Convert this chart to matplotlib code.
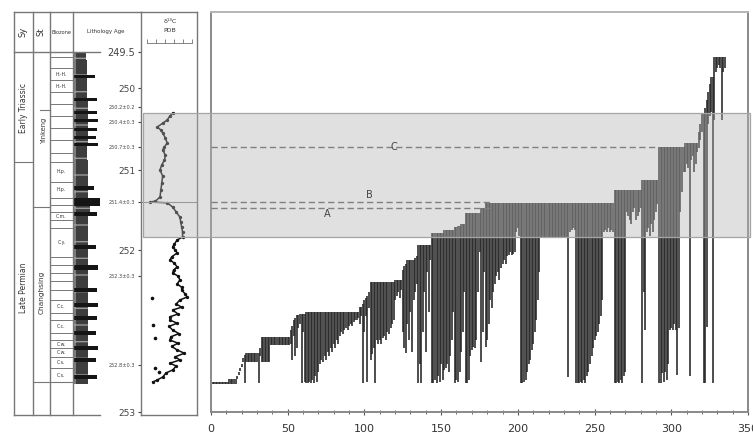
import matplotlib
matplotlib.use('Agg')
import matplotlib.pyplot as plt
from matplotlib.patches import Rectangle
from matplotlib.transforms import blended_transform_factory
from matplotlib.ticker import MultipleLocator

# ---- range chart: one entry per species, sorted by last occurrence (level units) ----
tops = ([7.6] * 11 + [8.2] * 5 + [9, 10, 11, 12, 13.5] + [14.25] + [14.75] * 8 + [14.75, 16]
        + [18.75] * 6 + [18.75] * 13 + [20.5, 21.5, 23, 23.5, 24.25, 24.25] + [24.5] * 4
        + [25] * 9 + [25] * 13 + [25] * 13 + [26.25] * 2 + [27, 28, 28.5, 29, 30]
        + [32.5] * 6 + [32.5] * 10 + [33] * 5
        + [35.5, 36.5, 37, 38, 38, 38, 38, 38, 38.5, 39]
        + [41.75] * 9 + [44.75] * 8 + [45.5] * 7 + [46.25, 46.25, 46.5, 46.5, 47, 47, 47]
        + [49.75] * 10 + [51] * 3
        + [52.25] * 7 + [52.25] * 13 + [52.25] * 3 + [52.25] * 13 + [52.25] * 18
        + [52.25] * 2 + [52.25] * 3 + [52.25] * 18 + [52.25] * 7
        + [55.5] * 8 + [55.5] * 10 + [58] * 2 + [58] * 9 + [66.25] * 7 + [66.25] * 10
        + [67.25] * 9 + [70, 72, 74.75, 74.75] + [76, 78, 80, 82, 83.75, 83.75] + [88.75] * 8)

bases = ([7.0] * 11 + [7.0] * 5 + [8.2, 9.2, 10.2, 11.2, 12.5] + [7.25] + [12.5] * 8 + [7.25, 14]
         + [12.5] * 6 + [16.75] * 13 + [17, 13, 19, 14, 16, 21] + [22, 7.25, 20, 7.5]
         + [7.25, 7.25, 7.5, 7.25, 8, 7.25, 9, 7.5, 10]
         + [12, 13, 12.5, 14, 13, 15, 14, 16, 15, 17, 16, 18, 17]
         + [19, 20, 19.5, 20.5, 21, 20.5, 21.5, 22, 21.5, 22.5, 23, 23, 23.5]
         + [22, 24] + [7.25, 20, 24, 7.5, 26]
         + [13, 14.5, 16, 7.25, 18, 17] + [18, 17, 18.5, 19, 18, 20, 19.5, 21, 22, 23]
         + [28, 29, 30, 28.5, 30.5]
         + [20, 16, 14.75, 22, 18, 25, 15, 28, 30, 32]
         + [7.25, 12, 7.25, 20, 30, 15, 35, 25, 38] + [7.25, 7.25, 8, 7.25, 9, 7.5, 12, 8]
         + [10.5, 11, 12, 10, 14, 18, 25] + [7.25, 8, 7.5, 10, 15, 20, 30]
         + [7.25, 7.25, 8, 14, 15.5, 16.25, 16, 18, 30, 40] + [12.5, 20, 35]
         + [16.25, 18, 22, 28, 26, 30, 32]
         + [34, 35, 33, 36, 37, 38, 37, 39, 39.25, 40, 39.25, 39.5, 40] + [45, 46, 44]
         + [7.25, 7.25, 7.5, 8, 10, 12, 13, 15.5, 17, 20, 23, 28, 35] + [43.5] * 18
         + [8.75, 45] + [45.5, 46, 45.5]
         + [7.25, 7.25, 7.25, 7.5, 7.25, 8, 7.25, 9, 10, 12, 14, 16, 18, 19, 20, 22, 24, 28]
         + [45, 45.5, 45, 46, 45, 45.5, 45]
         + [7.25, 7.25, 7.5, 7.25, 8, 7.25, 9, 10] + [50, 49, 48, 47, 50, 51, 48, 49, 50, 51]
         + [7.25, 30] + [20.5, 45, 46, 44, 47, 45, 48, 50, 52]
         + [7.25, 7.25, 9.75, 7.5, 10, 8, 12] + [20.5, 21, 20.5, 22, 20.5, 9.25, 21, 50, 55, 60]
         + [60, 62, 61, 9, 63, 64, 60, 62, 65] + [66, 68, 70, 7.25]
         + [7.25, 21.25, 72, 74, 75, 7.25] + [73, 85, 86, 86.75, 86, 73, 85, 86])

species = list(range(1, len(tops) + 1))

band_low, band_high = 43.75, 74.75
horizons = {'A': 50.9, 'B': 52.6, 'C': 66.3}
horizon_end = {'A': 182, 'B': 182, 'C': 291}
horizon_label_x = {'A': 76, 'B': 103, 'C': 119}
horizon_label_y = {'A': 49.6, 'B': 54.3, 'C': 66.3}

# ---- delta 13C curve ----
d13c_lev = [74.75, 74.0, 73.0, 72.2, 71.25, 70.5, 69.75, 68.5, 67.25, 66.3, 65.5, 64.2, 63.0,
            61.8, 60.5, 59.0, 57.25, 55.5, 53.75, 52.7, 52.5, 52.3, 51.25, 50.0, 48.75, 47.5,
            46.25, 45.0, 43.75, 43.0, 42.0, 41.25, 40.5, 39.75, 38.8, 38.0, 37.2, 36.25, 35.5,
            34.75, 34.0, 33.0, 32.0, 31.2, 30.5, 29.5, 28.75, 28.0, 27.0, 26.2, 25.5, 24.5,
            23.8, 23.0, 22.2, 21.4, 20.5, 19.6, 18.8, 18.0, 17.2, 16.4, 15.5, 14.7, 13.8,
            13.0, 12.2, 11.5, 10.5, 9.8, 8.75, 8.0, 7.5]
d13c_val = [1.3, 1.0, 0.7, 0.2, -0.4, 0.0, 0.2, 0.5, 0.7, 0.4, 0.2, 0.5, 0.4,
            0.1, -0.1, 0.2, 0.1, 0.0, -0.1, -0.6, -1.2, 0.7, 1.3, 1.7, 2.1, 2.2,
            2.3, 2.4, 2.4, 1.8, 1.5, 1.3, 1.6, 1.8, 1.2, 1.0, 1.5, 1.8, 1.4,
            1.3, 1.9, 2.1, 1.8, 2.3, 2.3, 2.7, 2.9, 2.1, 1.7, 2.3, 1.3, 1.9,
            1.0, 1.0, 1.8, 0.9, 1.3, 2.0, 1.1, 1.0, 1.9, 1.2, 1.8, 2.6, 1.6,
            2.1, 1.0, 1.7, 1.3, 0.6, 0.2, -0.4, -0.9]
outlier_lev = [28.5, 21.75, 18.5, 11.0, 10.0]
outlier_val = [-1.0, -0.9, -0.7, -0.7, -0.2]

age_levels = [90, 81, 76.25, 72.5, 66.25, 60.5, 52.5, 40.5, 34, 11.75, 0]
age_labels = ['249.5', '250', '250.2±0.2', '250.4±0.3', '250.7±0.3', '251', '251.4±0.3',
              '252', '252.3±0.3', '252.8±0.3', '253']

# ---- stratigraphic column ----
bed_tops = [90, 88, 84.25, 83.5, 78.5, 77.75, 75.25, 74.5, 73.25, 72.5, 71, 70.25, 69, 68.25,
            67.25, 66.5, 63, 59.25, 56.5, 55.5, 53.5, 51.5, 50, 49, 41.75, 40.75, 36.75, 35.5,
            31, 30, 27.25, 26.25, 24, 23, 20.25, 19.25, 16.5, 15.5, 13.5, 12.5, 9.25, 8.25]
bed_bottom = 7.0
bed_edge = [86, 87, 95, 87, 97, 88, 97, 88, 98, 88, 97, 88, 96, 88, 98, 87, 88, 88, 94, 88, 100,
            90, 97, 88, 96, 88, 98, 88, 97, 88, 98, 88, 97, 88, 96, 88, 98, 88, 96, 88, 97, 88]

zone_bounds = [90, 88.75, 86, 83, 80, 77, 74, 71, 68, 64.75, 62.5, 57.5, 53.5, 51.75, 50, 48,
               46, 38.75, 36.75, 34.75, 32.75, 30.5, 28, 24.75, 23, 19.75, 18, 16, 13.75, 11, 7.5]
zone_names = ['', '', 'H.-H.', 'H.-H.', '', '', '', '', '', '', 'H.p.', 'H.p.', '', '', 'C.m.',
              '', 'C.y.', '', '', '', '', '', 'C.c.', '', 'C.c.', '', 'C.w.', 'C.w.', 'C.s.', 'C.s.']

col_x = [14, 33, 50, 73]
frame_col = '#777777'
ink = '#333333'

fig = plt.figure(figsize=(7.53, 4.44), dpi=100)

# canvas in pixel x / level y for the column drawing
cv = fig.add_axes([0, 0, 1, 1])
cv.set_xlim(0, 753)
cv.set_ylim(-8, 103)
cv.axis('off')

for x in col_x:
    cv.plot([x, x], [-0.75, 100], color=frame_col, lw=1)
cv.plot([14, 141], [100, 100], color=frame_col, lw=1)
cv.plot([14, 100], [-0.75, -0.75], color=frame_col, lw=1)
cv.plot([14, 100], [90, 90], color=frame_col, lw=1)
cv.plot([14, 33], [62.5, 62.5], color=frame_col, lw=0.8)
cv.plot([33, 50], [51.25, 51.25], color=frame_col, lw=0.8)
cv.plot([40, 50], [75.5, 75.5], color=frame_col, lw=0.8)
cv.plot([33, 73], [7.5, 7.5], color=frame_col, lw=0.8)

cv.text(23.5, 95, 'Sy', rotation=90, fontsize=6, ha='center', va='center', color=ink)
cv.text(41.5, 95, 'St', rotation=90, fontsize=6, ha='center', va='center', color=ink)
cv.text(61.5, 95, 'Biozone', fontsize=3.6, ha='center', va='center', color=ink)
cv.text(106, 95, 'Lithology Age', fontsize=4, ha='center', va='center', color=ink)
cv.text(23.5, 76, 'Early Triassic', rotation=90, fontsize=5.5, ha='center', va='center', color=ink)
cv.text(23.5, 31, 'Late Permian', rotation=90, fontsize=5.5, ha='center', va='center', color=ink)
cv.text(44, 70.5, 'Yinkeng', rotation=90, fontsize=4.8, ha='center', va='center', color=ink)
cv.text(42, 30, 'Changhsing', rotation=90, fontsize=5.3, ha='center', va='center', color=ink)

for b in zone_bounds[1:]:
    cv.plot([50, 73], [b, b], color=frame_col, lw=0.7)
for i, name in enumerate(zone_names):
    if name:
        mid = (zone_bounds[i] + zone_bounds[i + 1]) / 2
        cv.text(61.5, mid, name, fontsize=3.3, ha='center', va='center', color=ink)

bed_lows = bed_tops[1:] + [bed_bottom]
for top, low, edge in zip(bed_tops, bed_lows, bed_edge):
    thin = edge > 90
    cv.add_patch(Rectangle((73, low), edge - 73, top - low,
                           facecolor='#151515' if thin else '#3d3d3d',
                           edgecolor='#9a9a9a', hatch=None if thin else '+',
                           linewidth=0))

# delta 13C panel (also carries the age ticks)
ad = fig.add_axes([141 / 753, 1 - 415 / 444, 56 / 753, 403 / 444])
ad.set_facecolor('none')
ad.set_xlim(-2.2, 4.0)
ad.set_ylim(-0.75, 100)
ad.plot(d13c_val, d13c_lev, color='#111111', lw=1.1, marker='o', ms=1.4)
ad.plot(outlier_val, outlier_lev, 'o', color='#111111', ms=1.6)
ad.axhline(52.5, color='#888888', lw=0.8)
ad.text(1.0, 97.6, 'δ¹³C', fontsize=4.5, ha='center', va='center', color=ink)
ad.text(1.0, 95.3, 'PDB', fontsize=4.5, ha='center', va='center', color=ink)
ad.plot([-1.5, 3.5], [92.3, 92.3], color='#555555', lw=0.5)
ad.vlines([-1.5, -0.5, 0.5, 1.5, 2.5, 3.5], 92.3, 93.3, color='#555555', lw=0.5)
ad.set_xticks([])
ad.set_yticks(age_levels)
ad.set_yticklabels(age_labels)
ad.tick_params(axis='y', direction='out', length=2.5, pad=1.5, colors='#444444')
for lab in ad.get_yticklabels():
    t = lab.get_text()
    lab.set_fontsize(3.6 if '±' in t else (7 if t == '249.5' else 6.5))
for s in ad.spines.values():
    s.set_color(frame_col)
    s.set_linewidth(1)

# range chart
ax = fig.add_axes([211 / 753, 1 - 412 / 444, 537 / 753, 400 / 444])
ax.set_xlim(0, 350)
ax.set_ylim(0, 100)
ax.vlines(species, bases, tops, color='#262626', lw=1.15, zorder=2)

band = Rectangle((143 / 753, band_low), 607 / 753, band_high - band_low,
                 transform=blended_transform_factory(fig.transFigure, ax.transData),
                 facecolor=(0.70, 0.70, 0.70, 0.4), edgecolor='#a5a5a5', lw=0.9,
                 clip_on=False, zorder=3)
ax.add_patch(band)

for key, lev in horizons.items():
    ax.plot([0, horizon_end[key]], [lev, lev], color='#808080', lw=1,
            dashes=(4.5, 2.5), zorder=4)
    ax.text(horizon_label_x[key], horizon_label_y[key], key, fontsize=7,
            ha='center', va='center', color='#444444', zorder=5)

ax.set_yticks([])
ax.xaxis.set_major_locator(MultipleLocator(50))
ax.xaxis.set_minor_locator(MultipleLocator(10))
ax.tick_params(axis='x', which='major', direction='inout', length=5, labelsize=8,
               colors='#555555', labelcolor='#333333', pad=6)
ax.tick_params(axis='x', which='minor', direction='inout', length=3, colors='#555555')
for s in ax.spines.values():
    s.set_color('#8a8a8a')
    s.set_linewidth(1.4)
ax.spines['top'].set_color('#b5b5b5')

fig.savefig('out.png', dpi=100)
